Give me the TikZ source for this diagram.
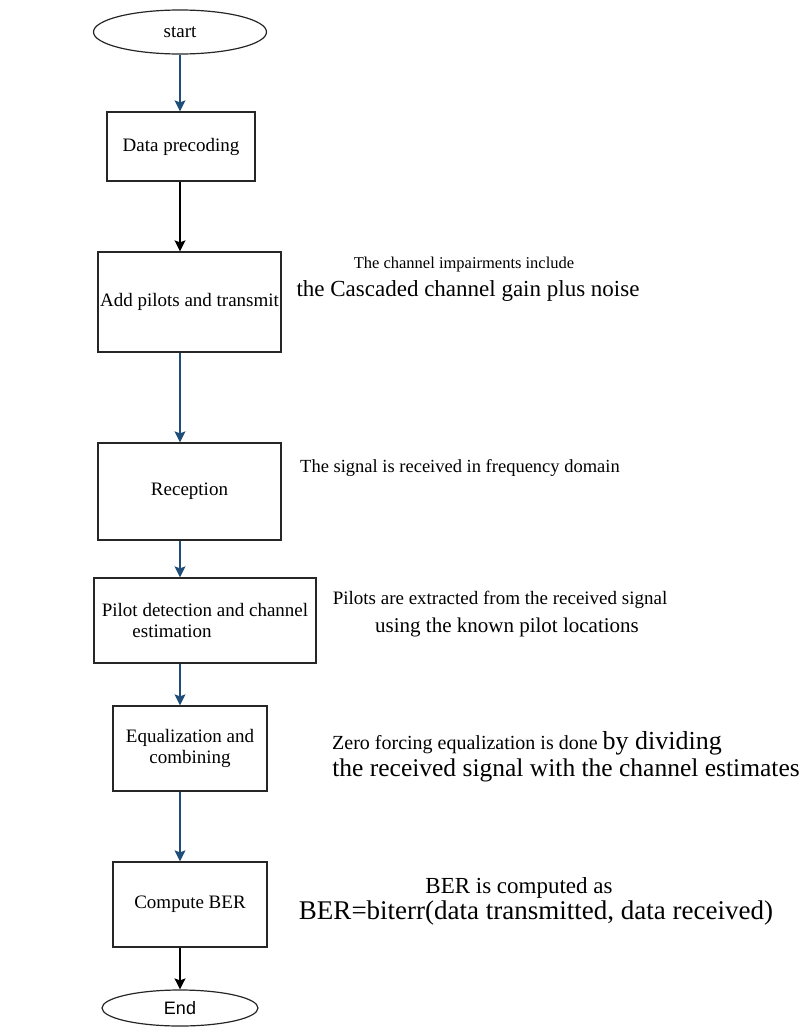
\documentclass[tikz,border=0pt]{standalone}
\usepackage{fontspec}
\setmainfont{Liberation Serif}
\newfontfamily\sansend{Liberation Sans}
\usetikzlibrary{arrows.meta}
\usetikzlibrary{shapes.geometric}

\definecolor{flowblue}{HTML}{1F4E79}
\newcommand{\fsz}[1]{\fontsize{#1}{#1}\selectfont}

\begin{document}
\begin{tikzpicture}[x=1pt, y=-1pt,
    stage/.style={draw=black!85, line width=1.3pt, inner sep=0pt, align=center, font=\fsz{19}},
    term/.style={ellipse, draw=black!85, line width=1.2pt, inner sep=0pt},
    flow/.style={line width=1.3pt, -{Stealth[length=11pt, width=11pt, inset=2pt]}},
    note/.style={inner sep=0pt, anchor=center}]
  \useasboundingbox (0,0) rectangle (809,1028);

  % flow chart column
  \node[term, minimum width=173pt, minimum height=44pt, font=\fsz{19}] (start) at (180,32) {start};
  \node[stage, minimum width=148pt, minimum height=69pt] (data) at (181,146.5) {Data precoding};
  \node[stage, minimum width=183pt, minimum height=100pt] (pilots) at (189.5,302) {Add pilots and transmit};
  \node[stage, minimum width=183pt, minimum height=97pt] (recep) at (189.5,491.5) {Reception};
  \node[stage, minimum width=222pt, minimum height=85pt] (detect) at (205,620.5) {Pilot detection and channel\\[2pt] estimation\hspace*{66pt}};
  \node[stage, minimum width=154pt, minimum height=85pt] (equal) at (190,748.5) {Equalization and\\[2pt] combining};
  \node[stage, minimum width=154pt, minimum height=85pt] (ber) at (190,904.5) {Compute BER};
  \node[term, minimum width=156pt, minimum height=36pt, font=\sansend\fsz{18}] (end) at (180,1008) {End};

  \draw[flow, flowblue] (start.south) -- (start |- data.north);
  \draw[flow, black] (start |- data.south) -- (start |- pilots.north);
  \draw[flow, flowblue] (start |- pilots.south) -- (start |- recep.north);
  \draw[flow, flowblue] (start |- recep.south) -- (start |- detect.north);
  \draw[flow, flowblue] (start |- detect.south) -- (start |- equal.north);
  \draw[flow, flowblue] (start |- equal.south) -- (start |- ber.north);
  \draw[flow, black] (start |- ber.south) -- (end.north);

  % comments on the right
  \node[note, font=\fsz{16.5}] (imp1) at (464,265) {The channel impairments include};
  \node[note, font=\fsz{23}] (imp2) at (468,291) {the Cascaded channel gain plus noise};
  \node[note, font=\fsz{18.5}] (rec1) at (460,468) {The signal is received in frequency domain};
  \node[note, font=\fsz{19}] (pil1) at (500,600) {Pilots are extracted from the received signal};
  \node[note, font=\fsz{21}] (pil2) at (507,627) {using the known pilot locations};
  \node[note] (zf1) at (527,743) {\fsz{20}Zero forcing equalization is done \fsz{26}by dividing};
  \node[note, font=\fsz{25.5}] (zf2) at (566,770) {the received signal with the channel estimates};
  \node[note, font=\fsz{23}] (ber1) at (519,888) {BER is computed as};
  \node[note, font=\fsz{27}] (ber2) at (536,913) {BER=biterr(data transmitted, data received)};
\end{tikzpicture}
\end{document}
